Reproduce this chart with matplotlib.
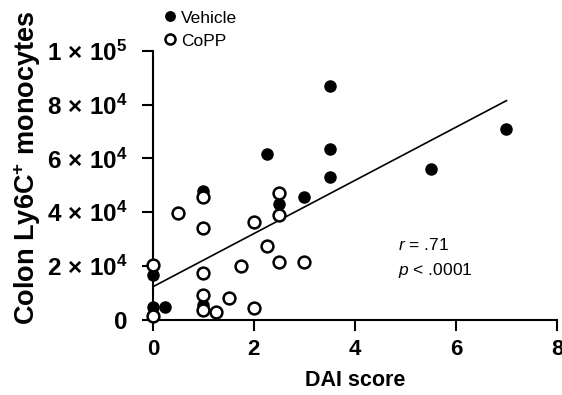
import matplotlib.pyplot as plt
import numpy as np

plt.rcParams['font.family'] = ['Liberation Sans', 'DejaVu Sans']
plt.rcParams['mathtext.fontset'] = 'custom'
plt.rcParams['mathtext.rm'] = 'Liberation Sans:bold'
plt.rcParams['mathtext.bf'] = 'Liberation Sans:bold'
plt.rcParams['mathtext.it'] = 'Liberation Sans:italic'

# Vehicle (filled) points: DAI score, Ly6C+ monocytes
veh_x = [0, 0, 0, 0.25, 1, 1, 2.25, 2.5, 3, 3.5, 3.5, 3.5, 5.5, 7]
veh_y = [16500, 4800, 1700, 4500, 48000, 5400, 61500, 43000, 45600, 87000, 63500, 53000, 56000, 70800]

# CoPP (open) points
copp_x = [0, 0, 0.5, 1, 1, 1, 1, 1, 1.25, 1.5, 1.75, 2, 2, 2.25, 2.5, 2.5, 2.5, 3]
copp_y = [20300, 1500, 39500, 45700, 34000, 17200, 9100, 3500, 2700, 7900, 19900, 4200, 36400, 27400, 47000, 38800, 21500, 21500]

# regression line
fit_x = [0, 7]
fit_y = [12200, 81500]

yticks = [0, 20000, 40000, 60000, 80000, 100000]
ytick_labels = ['0', r'$2\,\times\,10^{4}$', r'$4\,\times\,10^{4}$', r'$6\,\times\,10^{4}$',
                r'$8\,\times\,10^{4}$', r'$1\,\times\,10^{5}$']

fig = plt.figure(figsize=(5.62, 3.95), dpi=100)
ax = fig.add_axes([0.272, 0.191, 0.719, 0.68])

ax.plot(fit_x, fit_y, color='black', lw=1.2, zorder=2)
ax.plot(veh_x, veh_y, 'o', color='black', markersize=8, clip_on=False, zorder=3, label='Vehicle')
ax.plot(copp_x, copp_y, 'o', markerfacecolor='white', markeredgecolor='black',
        markeredgewidth=1.8, markersize=8.5, clip_on=False, zorder=4, label='CoPP')

ax.set_xlim(0, 8)
ax.set_ylim(0, 100000)
ax.set_xticks([0, 2, 4, 6, 8])
ax.set_yticks(yticks)
ax.set_yticklabels(ytick_labels)
for lbl in ax.get_xticklabels() + ax.get_yticklabels():
    lbl.set_fontweight('bold')
ax.tick_params(axis='x', labelsize=16, length=8, width=1.5, pad=6)
ax.tick_params(axis='y', labelsize=17.5, length=8, width=1.5, pad=10)

for s in ['top', 'right']:
    ax.spines[s].set_visible(False)
for s in ['left', 'bottom']:
    ax.spines[s].set_linewidth(1.5)

ax.set_xlabel('DAI score', fontsize=15.5, fontweight='bold', labelpad=7)
fig.text(0.048, 0.575, r'Colon Ly6C$^{+}$ monocytes', rotation=90, fontsize=19.5,
         fontweight='bold', ha='center', va='center')

ax.text(4.85, 27700, r'$\it{r}$ = .71', fontsize=12.5, va='center')
ax.text(4.85, 18400, r'$\it{p}$ < .0001', fontsize=12.5, va='center')

ax.legend(loc='upper left', bbox_to_anchor=(0.27, 1.0), bbox_transform=fig.transFigure,
          frameon=False, fontsize=12.5, handletextpad=0.2, handlelength=0.9,
          labelspacing=0.45, markerscale=0.85, borderaxespad=0.2)

plt.savefig('out.png', dpi=100)
